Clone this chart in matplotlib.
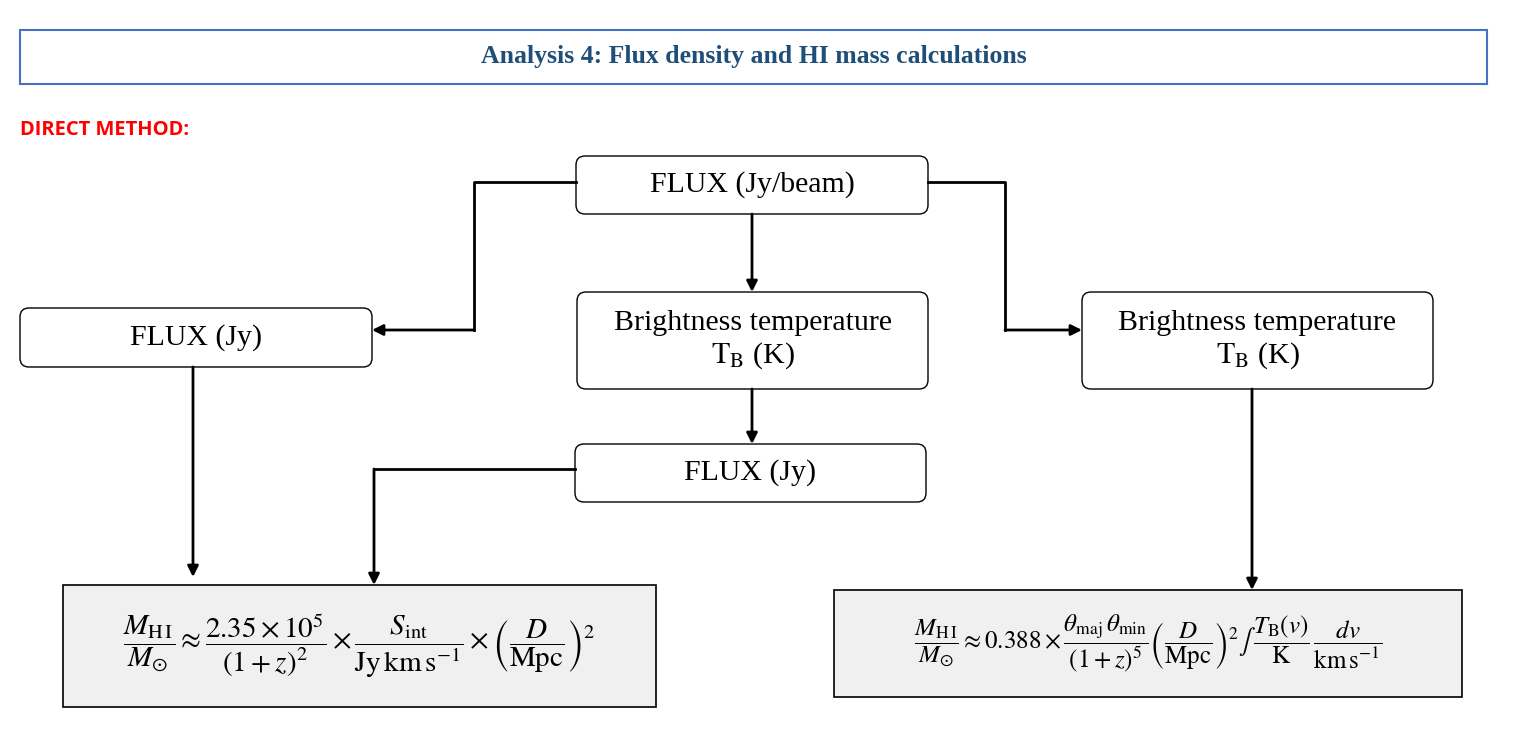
import matplotlib
matplotlib.use("Agg")
import matplotlib.pyplot as plt
from matplotlib.patches import FancyBboxPatch, Rectangle

plt.rcParams['mathtext.fontset'] = 'stix'
plt.rcParams['font.family'] = ['Liberation Serif', 'DejaVu Serif']

title = "Analysis 4: Flux density and HI mass calculations"
section = "DIRECT METHOD:"

# node boxes: label, x0, y0, x1, y1 (pixels, y down)
node_labels = ["FLUX (Jy/beam)", "FLUX (Jy)", "Brightness temperature\n$\\mathrm{T_B}$ (K)",
               "Brightness temperature\n$\\mathrm{T_B}$ (K)", "FLUX (Jy)"]
node_boxes = [(576, 156, 928, 214), (20, 308, 372, 367), (577, 292, 928, 389),
              (1082, 292, 1433, 389), (575, 444, 926, 502)]

formula_left = (r'$\dfrac{M_{{\rm H\,I}}}{M_{\odot}} \approx \dfrac{2.35\times10^5}{(1+z)^2}'
                r' \times \dfrac{S_{{\rm int}}}{{\rm Jy\,km\,s^{-1}}} \times'
                r' \left(\dfrac{D}{{\rm Mpc}}\right)^2$')
formula_right = (r'$\dfrac{M_{{\rm H\,I}}}{M_{\odot}} \approx 0.388\times'
                 r'\dfrac{\theta_{{\rm maj}}\,\theta_{{\rm min}}}{(1+z)^5}'
                 r'\left(\dfrac{D}{{\rm Mpc}}\right)^2\int\,\dfrac{T_{{\rm B}}(v)}{{\rm K}}\,'
                 r'\dfrac{dv}{{\rm km\,s^{-1}}}$')
formula_boxes = [(63, 585, 656, 707), (834, 590, 1462, 697)]
formula_sizes = [21, 18]

# connector paths (last point gets the arrow head)
paths = [
    [(576, 182), (474, 182), (474, 330), (372, 330)],
    [(928, 182), (1005, 182), (1005, 330), (1082, 330)],
    [(752, 214), (752, 292)],
    [(752, 389), (752, 444)],
    [(193, 367), (193, 577)],
    [(575, 469), (374, 469), (374, 585)],
    [(1252, 389), (1252, 590)],
]

fig = plt.figure(figsize=(15.14, 7.46), dpi=100)
ax = fig.add_axes([0, 0, 1, 1])
ax.set_xlim(0, 1514)
ax.set_ylim(746, 0)
ax.axis('off')

ax.add_patch(Rectangle((20, 30), 1467, 54, fill=False, ec='#4472C4', lw=1.5))
ax.text(754, 57, title, ha='center', va='center', fontsize=18.5, fontweight='bold', color='#1F4E79')
ax.text(20, 130, section, ha='left', va='center', fontsize=14.5, fontweight='bold',
        color='#FF0000', family=['Open Sans', 'DejaVu Sans'])

for label, (x0, y0, x1, y1) in zip(node_labels, node_boxes):
    ax.add_patch(FancyBboxPatch((x0, y0), x1 - x0, y1 - y0, boxstyle='round,pad=0,rounding_size=9',
                                fc='white', ec='black', lw=1))
    ax.text((x0 + x1) / 2, (y0 + y1) / 2, label, ha='center', va='center', fontsize=21.5,
            linespacing=1.2)

for f, fs, (x0, y0, x1, y1) in zip([formula_left, formula_right], formula_sizes, formula_boxes):
    ax.add_patch(Rectangle((x0, y0), x1 - x0, y1 - y0, fc='#F0F0F0', ec='black', lw=1.2))
    ax.text((x0 + x1) / 2, (y0 + y1) / 2, f, ha='center', va='center', fontsize=fs)

for p in paths:
    xs = [q[0] for q in p]
    ys = [q[1] for q in p]
    ax.plot(xs[:-1], ys[:-1], color='black', lw=2)
    ax.annotate('', xy=p[-1], xytext=p[-2],
                arrowprops=dict(arrowstyle='-|>', color='black', lw=2, mutation_scale=16,
                                shrinkA=0, shrinkB=0))

fig.savefig('out.png', dpi=100)
